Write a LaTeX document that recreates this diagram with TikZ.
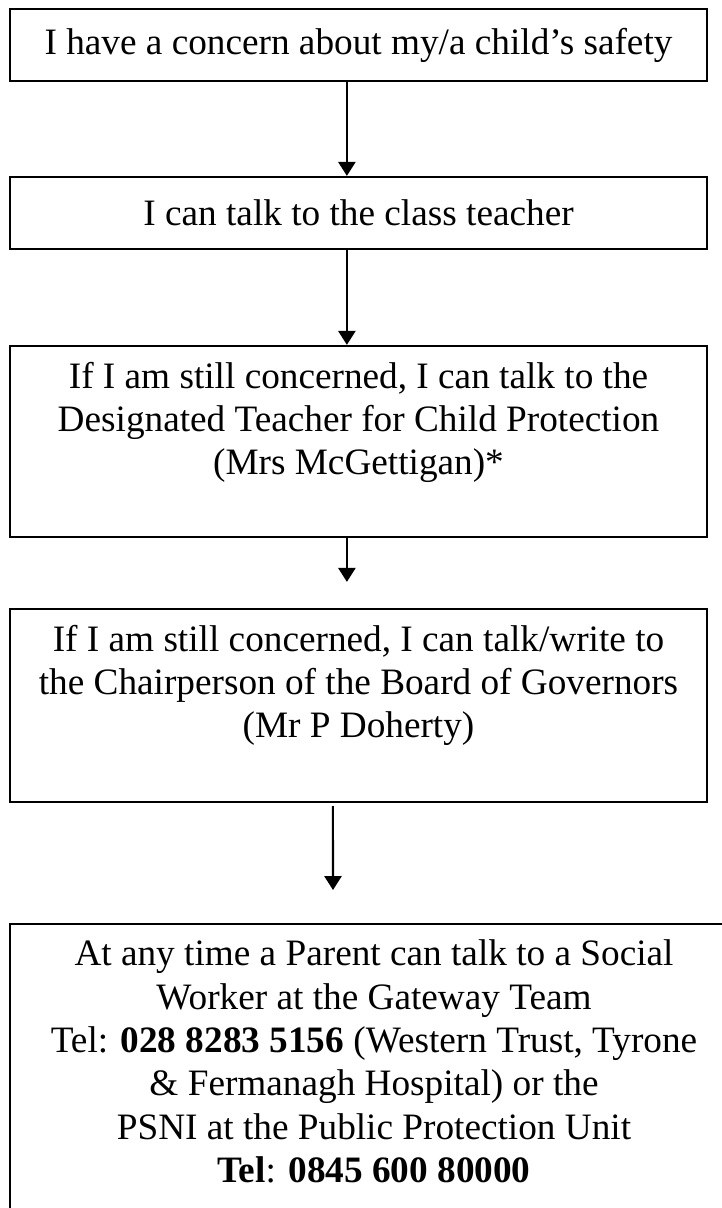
\documentclass[tikz,border=0pt]{standalone}
\usepackage{fontspec}
\setmainfont{Liberation Serif}
\usetikzlibrary{arrows.meta,positioning}
\definecolor{FlowInk}{HTML}{000000}
\tikzset{
  every node/.style={font=\fontsize{26.5}{30.8}\selectfont, text=FlowInk},
  stage/.style={draw=FlowInk, line width=1.6pt, minimum width=17.425cm, minimum height=1.8cm, inner sep=0pt},
  stagetext/.style={anchor=north, align=center, inner sep=0pt, yshift=-0.42cm},
  flow/.style={-{Triangle[length=3.5mm,width=4.3mm]}, draw=FlowInk, line width=1.5pt},
}
\begin{document}
\begin{tikzpicture}[x=1cm,y=1cm]
  \useasboundingbox (0,0) rectangle (18.05,-30.2);
  \node[stage] (concern) at (8.9625,-1.125) {I have a concern about my/a child's safety};
  \node[stage] (teacher) at (8.9625,-5.325) {I can talk to the class teacher};
  \node[stage, minimum height=4.775cm] (designated) at (8.9625,-11.0375) {};
  \node[stagetext] (designatedtext) at (designated.north) {If I am still concerned, I can talk to the\\Designated Teacher for Child Protection\\(Mrs McGettigan)*};
  \node[stage, minimum height=4.825cm] (governors) at (8.9625,-17.6375) {};
  \node[stagetext] (governorstext) at (governors.north) {If I am still concerned, I can talk/write to\\the Chairperson of the Board of Governors\\(Mr P Doherty)};
  \node[stage, minimum width=18.2cm, minimum height=8cm, anchor=north] (parent) at (9.35,-23.075) {};
  \node[stagetext] (parenttext) at (parent.north) {At any time a Parent can talk to a Social\\Worker at the Gateway Team\\Tel: \textbf{028 8283 5156} (Western Trust, Tyrone\\\& Fermanagh Hospital) or the\\PSNI at the Public Protection Unit\\\textbf{Tel}: \textbf{0845 600 80000}};
  \draw[flow] ([xshift=-0.29cm]concern.south) -- ([xshift=-0.29cm]teacher.north);
  \draw[flow] ([xshift=-0.29cm]teacher.south) -- ([xshift=-0.29cm]designated.north);
  \draw[flow] ([xshift=-0.29cm]designated.south) -- ([xshift=-0.29cm,yshift=0.65cm]governors.north);
  \draw[flow] ([xshift=-0.64cm,yshift=-0.075cm]governors.south) -- ([xshift=-1.025cm,yshift=0.825cm]parent.north);
\end{tikzpicture}
\end{document}
